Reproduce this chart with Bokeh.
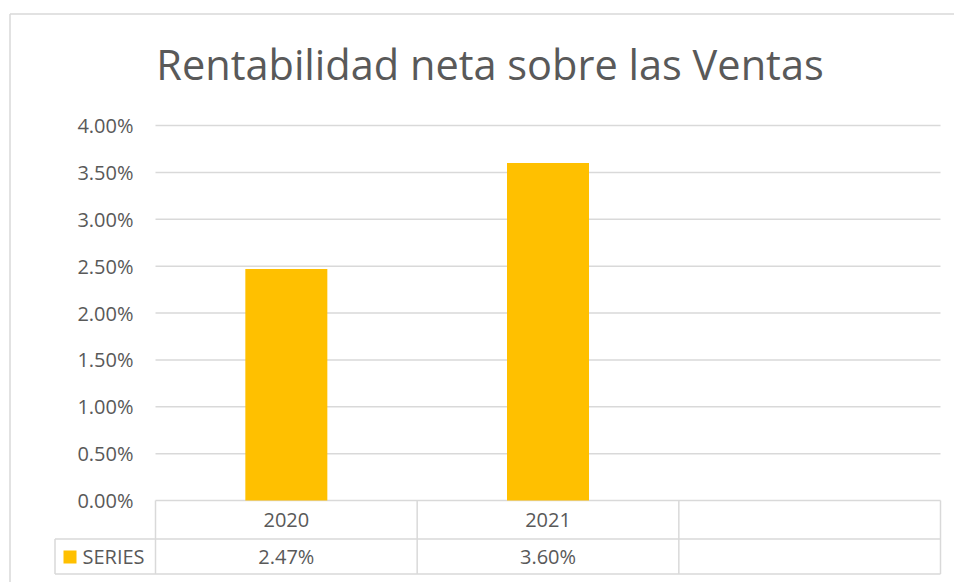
from bokeh.plotting import figure
from bokeh.models import Range1d, FixedTicker, NumeralTickFormatter
from bokeh.core.properties import value
from bokeh.embed import file_html
from bokeh.resources import INLINE

# ---- data ----
title_text = "Rentabilidad neta sobre las Ventas"
categories = ["2020", "2021", ""]
series_name = "SERIES"
series_values = [0.0247, 0.0360]
series_labels = ["2.47%", "3.60%", ""]
tick_values = [0.0, 0.005, 0.01, 0.015, 0.02, 0.025, 0.03, 0.035, 0.04]

# ---- layout (canvas pixels) ----
W, H = 954, 582
L, R, T, B = 155, 940, 125, 500
n = len(categories)
kx = (R - L) / n
ky = (B - T) / max(tick_values)


def dx(px):
    return (px - L) / kx


def dy(py):
    return (B - py) / ky


TEXT = "#595959"
LINE = "#d9d9d9"
GOLD = "#FFC000"
FONT = value("Open Sans")

p = figure(width=W, height=H, output_backend="svg", toolbar_location=None,
           x_range=Range1d(dx(0), dx(W)), y_range=Range1d(dy(H), dy(0)),
           x_axis_location=None, min_border=0, tools="")
p.title.visible = False
p.outline_line_color = None
p.background_fill_color = "white"
p.border_fill_color = "white"
p.grid.visible = False

ax = p.yaxis[0]
ax.fixed_location = 0
ax.ticker = FixedTicker(ticks=tick_values)
ax.formatter = NumeralTickFormatter(format="0.00%")
ax.axis_line_color = None
ax.major_tick_line_color = None
ax.minor_tick_line_color = None
ax.major_tick_out = 0
ax.major_tick_in = 0
ax.minor_tick_out = 0
ax.major_label_standoff = 22
ax.major_label_text_font = "Open Sans"
ax.major_label_text_font_size = "20px"
ax.major_label_text_color = TEXT

# outer chart border
p.segment(x0=[dx(9.5), dx(9.5)], x1=[dx(W), dx(9.5)],
          y0=[dy(13.5), dy(13.5)], y1=[dy(13.5), dy(H)],
          line_color=LINE, line_width=1.5)

# gridlines
p.segment(x0=[0] * len(tick_values), x1=[n] * len(tick_values),
          y0=tick_values, y1=tick_values, line_color=LINE, line_width=1.5)

# bars
p.vbar(x=[i + 0.5 for i in range(len(series_values))], top=series_values,
       bottom=0, width=82 / kx, fill_color=GOLD, line_color=None)

# data table lines
row1 = dy(538.5)
row2 = dy(573.5)
legend_left = dx(54.5)
p.segment(x0=[legend_left, legend_left], x1=[n, n], y0=[row1, row2], y1=[row1, row2],
          line_color=LINE, line_width=1.5)
p.segment(x0=list(range(n + 1)) + [legend_left], x1=list(range(n + 1)) + [legend_left],
          y0=[0] * (n + 1) + [row1], y1=[row2] * (n + 2),
          line_color=LINE, line_width=1.5)

# table texts
cx = [i + 0.5 for i in range(n)]
p.text(x=cx, y=[dy(519.5)] * n, text=categories, text_align="center",
       text_baseline="middle", text_font=FONT, text_font_size="20px", text_color=TEXT)
p.text(x=cx, y=[dy(556)] * n, text=series_labels, text_align="center",
       text_baseline="middle", text_font=FONT, text_font_size="20px", text_color=TEXT)

# legend key
p.scatter(x=[dx(69.5)], y=[dy(556.5)], marker="square", size=13,
          fill_color=GOLD, line_color=None)
p.text(x=[dx(82)], y=[dy(556)], text=[series_name], text_align="left",
       text_baseline="middle", text_font=FONT, text_font_size="20px", text_color=TEXT)

# title
p.text(x=[dx(489.5)], y=[dy(63)], text=[title_text], text_align="center",
       text_baseline="middle", text_font=FONT, text_font_size="41.5px", text_color=TEXT)

open("out.html", "w").write(file_html(p, INLINE))
